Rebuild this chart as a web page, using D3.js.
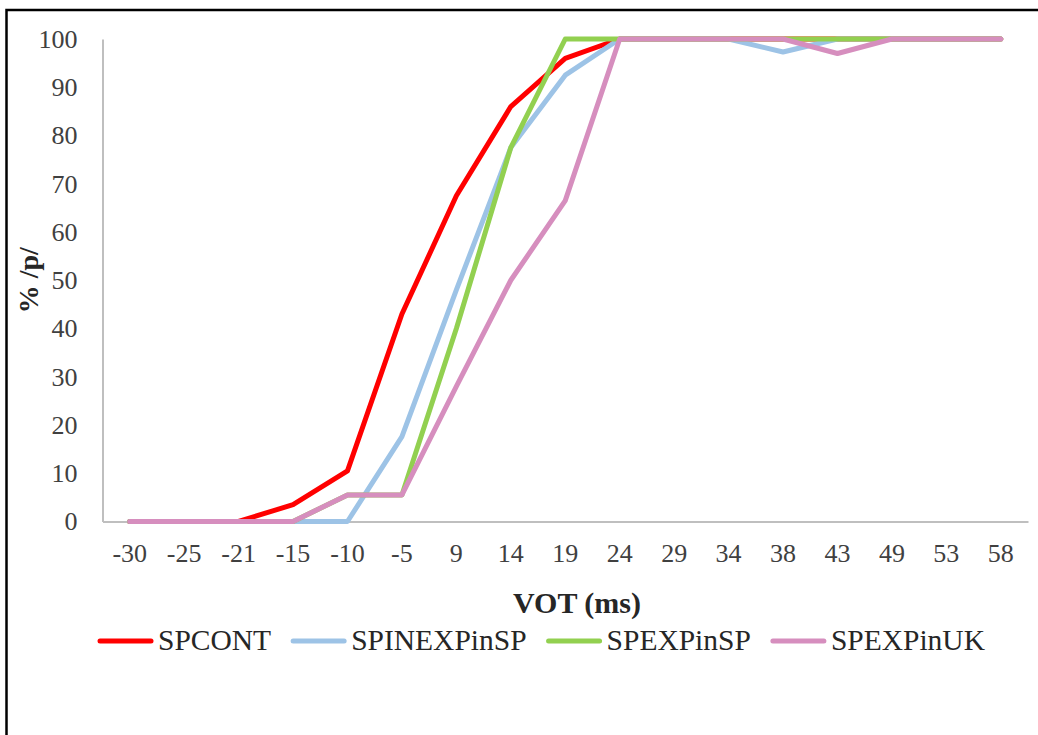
<!DOCTYPE html>
<html>
<head>
<meta charset="utf-8">
<script src="https://cdn.jsdelivr.net/npm/d3@7"></script>
<style>
  html, body { margin: 0; padding: 0; background: #fff; }
  svg { display: block; }
  text { font-family: "Liberation Serif", "Times New Roman", serif; }
</style>
</head>
<body>
<svg id="chart" width="1038" height="735"></svg>
<script>
// VOT continuum steps (ms)
const categories = ["-30", "-25", "-21", "-15", "-10", "-5", "9", "14", "19", "24", "29", "34", "38", "43", "49", "53", "58"];

// Percentage of /p/ responses per group
const spcont      = [0, 0, 0, 3.5, 10.5, 43, 67.5, 86, 96, 100, 100, 100, 100, 100, 100, 100, 100];
const spinexpinsp = [0, 0, 0, 0, 0, 17.6, 48, 77.5, 92.5, 100, 100, 100, 97.3, 100, 100, 100, 100];
const spexpinsp   = [0, 0, 0, 0, 5.5, 5.5, 40, 77.5, 100, 100, 100, 100, 100, 100, 100, 100, 100];
const spexpinuk   = [0, 0, 0, 0, 5.5, 5.5, 28, 50, 66.5, 100, 100, 100, 100, 97, 100, 100, 100];

const seriesNames  = ["SPCONT", "SPINEXPinSP", "SPEXPinSP", "SPEXPinUK"];
const seriesColors = ["#FF0000", "#9DC3E6", "#92D050", "#D68EBE"];
const yTicks = [0, 10, 20, 30, 40, 50, 60, 70, 80, 90, 100];

const series = [spcont, spinexpinsp, spexpinsp, spexpinuk].map((vals, i) => ({
  name: seriesNames[i], color: seriesColors[i], values: vals
}));

const svg = d3.select("#chart");

// outer frame
svg.append("rect")
  .attr("x", 6.5).attr("y", 10).attr("width", 1040).attr("height", 740)
  .attr("fill", "none").attr("stroke", "#000").attr("stroke-width", 2.5);

const plot = { left: 102.5, right: 1028, top: 39, bottom: 521.5 };

const x = d3.scaleBand().domain(categories).range([plot.left, plot.right]);
const y = d3.scaleLinear().domain([0, 100]).range([plot.bottom, plot.top]);

// axes
const yAxis = svg.append("g")
  .attr("transform", `translate(${plot.left},0)`)
  .call(d3.axisLeft(y).tickValues(yTicks).tickSize(0).tickPadding(25));
yAxis.select(".domain").attr("stroke", "#BFBFBF").attr("stroke-width", 2);
yAxis.selectAll("text")
  .attr("font-size", 26).attr("fill", "#404040")
  .style("font-family", "'Liberation Serif', serif");

const xAxis = svg.append("g")
  .attr("transform", `translate(0,${plot.bottom})`)
  .call(d3.axisBottom(x).tickSize(0).tickPadding(22));
xAxis.select(".domain").attr("stroke", "#BFBFBF").attr("stroke-width", 2);
xAxis.selectAll("text")
  .attr("font-size", 26).attr("fill", "#404040")
  .style("font-family", "'Liberation Serif', serif");

// series lines
const line = d3.line()
  .x((d, i) => x(categories[i]) + x.bandwidth() / 2)
  .y(d => y(d));

svg.append("g").selectAll("path")
  .data(series)
  .join("path")
  .attr("d", d => line(d.values))
  .attr("fill", "none")
  .attr("stroke", d => d.color)
  .attr("stroke-width", 5)
  .attr("stroke-linejoin", "round")
  .attr("stroke-linecap", "round");

// axis titles
svg.append("text")
  .attr("transform", `translate(38,${(plot.top + plot.bottom) / 2}) rotate(-90)`)
  .attr("text-anchor", "middle")
  .attr("font-size", 28).attr("font-weight", "bold").attr("fill", "#262626")
  .text("% /p/");

svg.append("text")
  .attr("x", 577).attr("y", 613)
  .attr("text-anchor", "middle")
  .attr("font-size", 30).attr("font-weight", "bold").attr("fill", "#262626")
  .text("VOT (ms)");

// legend
const legend = svg.append("g");
let lx = 98;
const ly = 641;
series.forEach(s => {
  legend.append("line")
    .attr("x1", lx + 2).attr("x2", lx + 53)
    .attr("y1", ly).attr("y2", ly)
    .attr("stroke", s.color).attr("stroke-width", 5).attr("stroke-linecap", "round");
  const t = legend.append("text")
    .attr("x", lx + 60).attr("y", ly + 9)
    .attr("font-size", 29.5).attr("fill", "#262626")
    .text(s.name);
  lx += 60 + t.node().getComputedTextLength() + 20;
});
</script>
</body>
</html>
